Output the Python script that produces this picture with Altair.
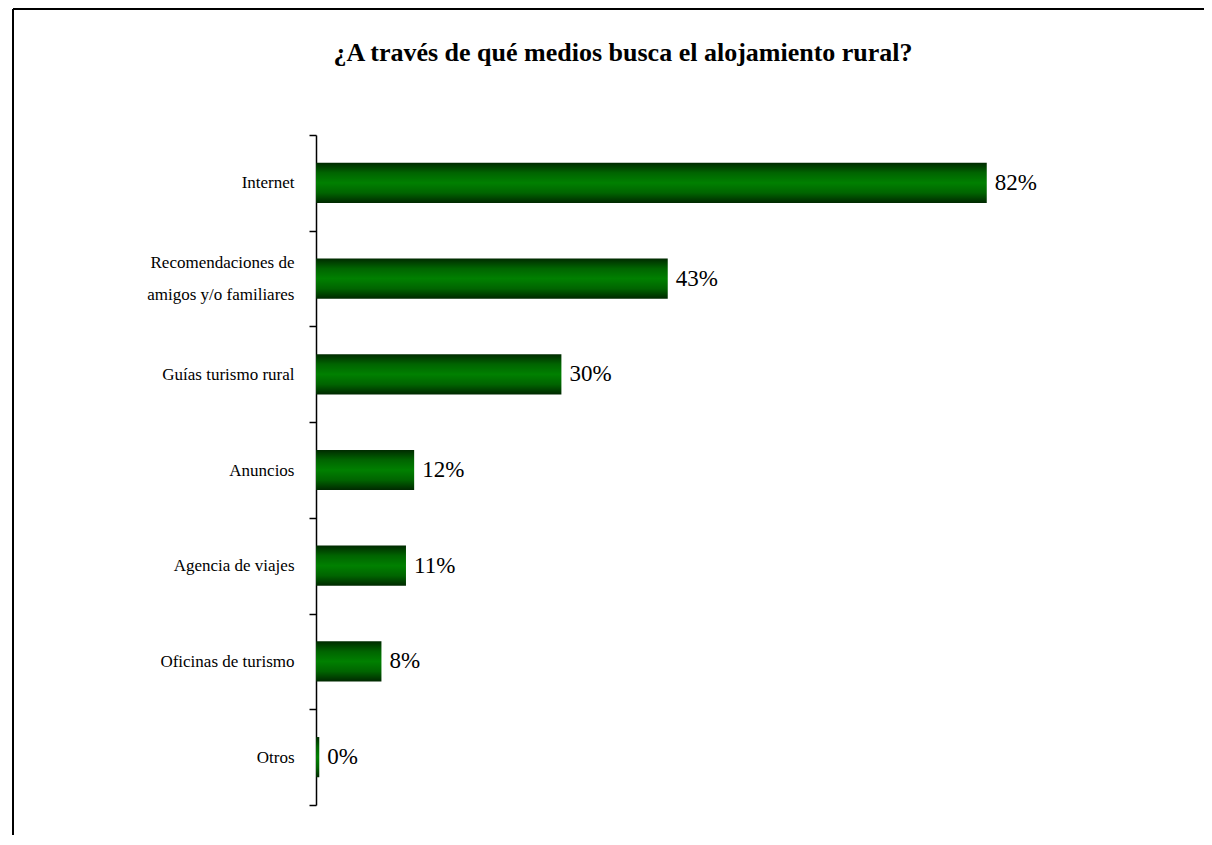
import altair as alt
import pandas as pd

categories = [
    "Internet",
    "Recomendaciones de|amigos y/o familiares",
    "Guías turismo rural",
    "Anuncios",
    "Agencia de viajes",
    "Oficinas de turismo",
    "Otros",
]
shares = [0.82, 0.43, 0.30, 0.12, 0.11, 0.08, 0.004]

df = pd.DataFrame({"medio": categories, "valor": shares})

FONT = "Liberation Serif"

gradient = alt.Gradient(
    gradient="linear",
    x1=0, y1=0, x2=0, y2=1,
    stops=[
        alt.GradientStop(color="#002a00", offset=0),
        alt.GradientStop(color="#006400", offset=0.25),
        alt.GradientStop(color="#008000", offset=0.5),
        alt.GradientStop(color="#006400", offset=0.75),
        alt.GradientStop(color="#002800", offset=1),
    ],
)

y_enc = alt.Y(
    "medio:N",
    sort=categories,
    title=None,
    scale=alt.Scale(paddingInner=0, paddingOuter=0),
    axis=alt.Axis(
        domainColor="black",
        domainWidth=1.5,
        tickColor="black",
        tickWidth=1.5,
        tickSize=7,
        tickBand="extent",
        labelPadding=15,
        labelFont=FONT,
        labelFontSize=17,
        labelColor="black",
        labelLineHeight=32,
        labelExpr="split(datum.label, '|')",
        labelOffset={"condition": {"test": "indexof(datum.label, '|') >= 0", "value": -16}, "value": 0},
        labelLimit=400,
        grid=False,
    ),
)
x_enc = alt.X("valor:Q", axis=None, scale=alt.Scale(domain=[0, 1.0], nice=False))

base = alt.Chart(df)

bars = base.mark_bar(color=gradient, height=alt.RelativeBandSize(0.42)).encode(x=x_enc, y=y_enc)

labels = base.mark_text(
    align="left", baseline="middle", dx=8, font=FONT, fontSize=23, color="black"
).encode(x=x_enc, y=y_enc, text=alt.Text("valor:Q", format=".0%"))

border_left = base.mark_rule(color="black", strokeWidth=2).encode(
    x=alt.value(-303), y=alt.value(-126), y2=alt.value(720)
)
border_top = base.mark_rule(color="black", strokeWidth=2).encode(
    x=alt.value(-303), x2=alt.value(900), y=alt.value(-126)
)

chart = (
    alt.layer(border_left, border_top, bars, labels)
    .properties(
        width=818,
        height=670,
        autosize=alt.AutoSizeParams(type="none"),
        padding={"left": 308, "top": 127, "right": 70, "bottom": 30},
        title=alt.TitleParams(
            "¿A través de qué medios busca el alojamiento rural?",
            font=FONT,
            fontSize=26,
            fontWeight="bold",
            color="black",
            anchor="middle",
            dx=-102,
            offset=-58,
        ),
    )
    .configure_view(stroke=None)
)

chart.save("out.html", embed_options={"renderer": "svg", "actions": False})
